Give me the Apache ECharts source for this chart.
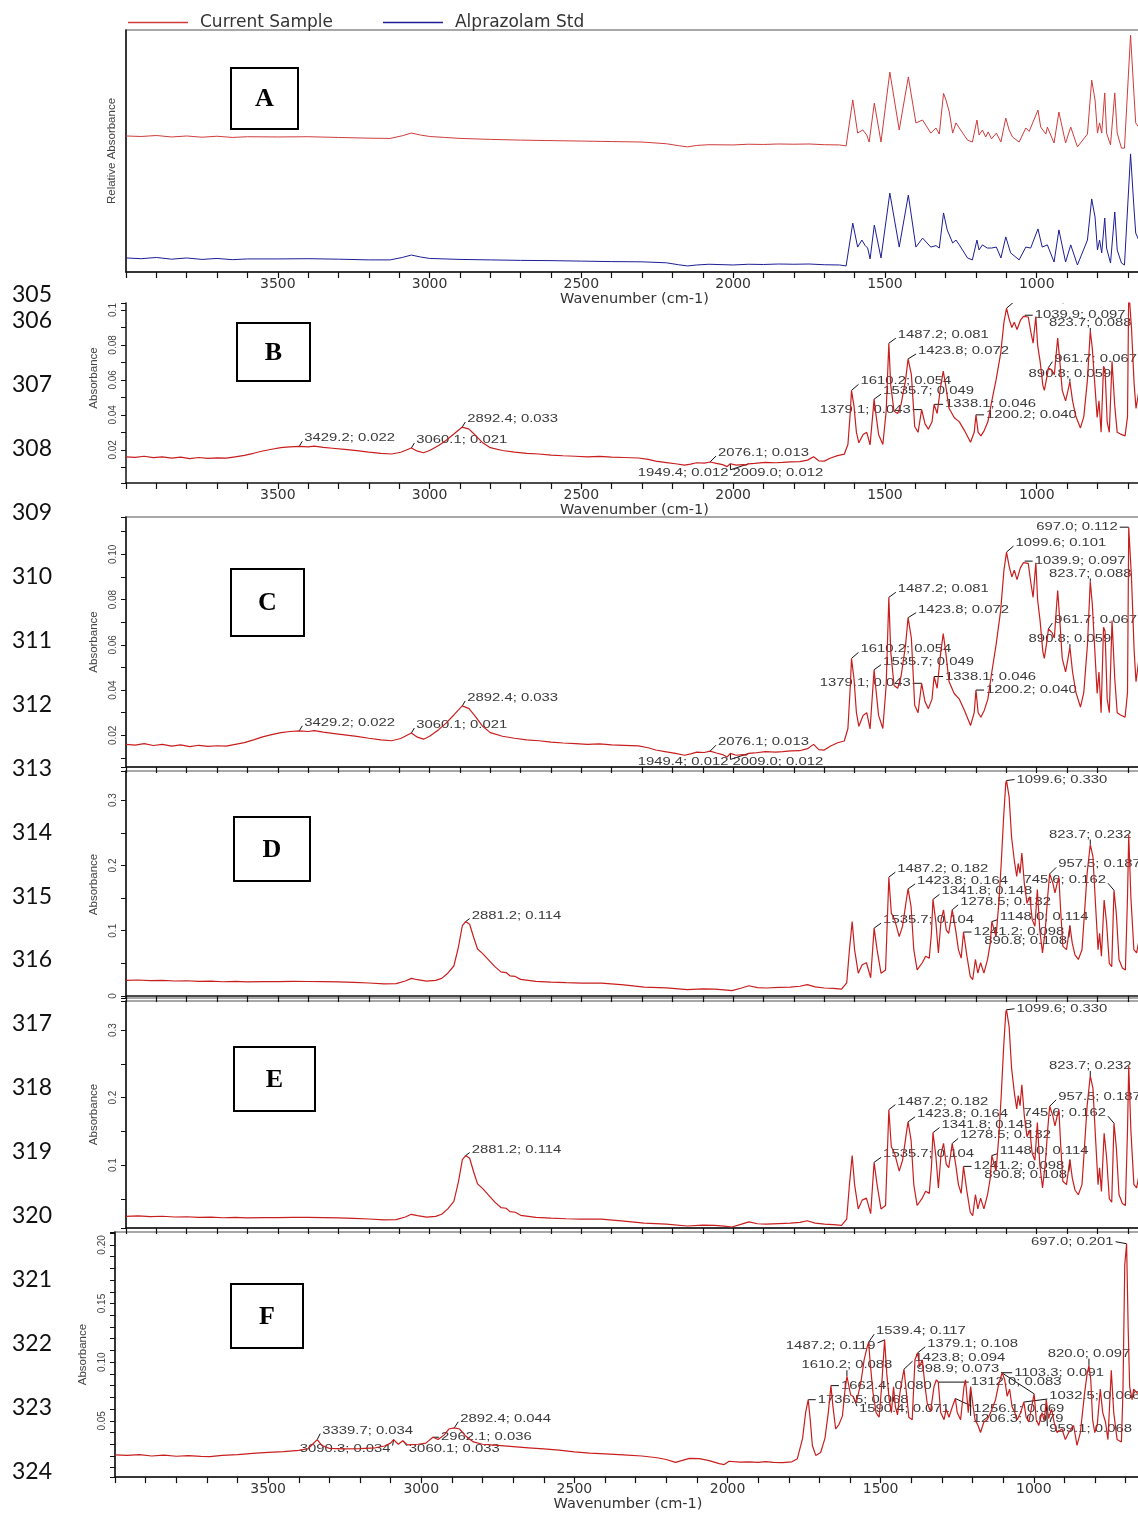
<!DOCTYPE html>
<html>
<head>
<meta charset="utf-8">
<script src="https://cdn.jsdelivr.net/npm/echarts@6/dist/echarts.min.js"></script>
<style>
html,body{margin:0;padding:0;overflow:hidden;background:#fff}
#chart{width:1150px;height:1513px}
</style>
</head>
<body>
<div id="chart"></div>
<script>
// ---------------- data ----------------
// overlay panel: relative absorbance traces (arbitrary units, stacked)
const overlaySample = [[4000,56.2],[3950,56.0],[3900,56.4],[3850,55.8],[3800,56.2],[3750,55.7],[3700,56.1],[3650,55.6],[3600,55.9],[3500,55.8],[3400,55.9],[3300,55.6],[3200,55.3],[3130,55.2],[3090,56.3],[3060,57.4],[3030,56.6],[3000,56.0],[2950,55.6],[2900,55.2],[2850,55.0],[2800,54.8],[2700,54.5],[2600,54.3],[2500,54.1],[2400,53.9],[2300,53.7],[2220,53.0],[2180,52.2],[2150,51.7],[2120,52.3],[2080,52.6],[2000,52.5],[1950,52.8],[1900,52.7],[1850,52.9],[1800,52.8],[1750,52.9],[1700,52.6],[1650,52.5],[1628,52.1],[1606,71.1],[1590,57.4],[1573,58.7],[1560,56.6],[1552,53.7],[1535,69.8],[1513,53.7],[1484,82.6],[1453,58.7],[1423,80.6],[1398,61.6],[1376,62.8],[1349,57.4],[1332,59.5],[1321,57.0],[1307,73.8],[1299,71.1],[1288,66.1],[1277,57.4],[1266,61.6],[1255,59.5],[1228,54.5],[1212,53.7],[1197,62.8],[1190,56.6],[1179,58.7],[1168,55.8],[1160,57.9],[1149,55.0],[1133,57.4],[1118,53.7],[1102,63.6],[1091,58.7],[1080,55.8],[1058,53.7],[1036,59.5],[1025,58.1],[996,66.9],[987,59.9],[970,57.0],[965,59.9],[943,53.3],[927,66.1],[905,53.3],[888,59.9],[866,51.7],[833,57.0],[819,79.3],[808,71.1],[800,57.4],[793,61.6],[786,57.4],[776,74.0],[770,57.4],[757,52.5],[743,74.0],[735,57.4],[721,51.2],[711,51.2],[691,97.9],[680,74.0],[674,61.6],[664,59.9],[650,60.5]];
const overlayStd = [[4000,5.8],[3950,5.5],[3900,6.0],[3850,5.3],[3800,5.8],[3750,5.2],[3700,5.6],[3650,5.1],[3600,5.4],[3500,5.4],[3400,5.5],[3300,5.3],[3200,5.0],[3130,5.0],[3090,6.0],[3060,7.0],[3030,6.2],[3000,5.6],[2900,5.2],[2800,5.0],[2700,4.8],[2600,4.7],[2500,4.5],[2400,4.3],[2300,4.2],[2220,3.8],[2180,3.0],[2150,2.5],[2120,2.9],[2080,3.2],[2000,2.9],[1950,3.2],[1900,3.1],[1850,3.3],[1800,3.2],[1750,3.3],[1700,3.0],[1650,2.9],[1628,2.5],[1606,20.2],[1590,10.3],[1576,13.2],[1565,10.9],[1557,9.9],[1549,5.4],[1535,19.4],[1513,5.8],[1484,32.6],[1453,10.3],[1423,31.8],[1398,10.3],[1376,14.0],[1349,10.3],[1332,10.9],[1321,9.9],[1307,24.4],[1295,17.4],[1277,12.0],[1266,13.2],[1255,11.2],[1228,5.8],[1212,5.0],[1197,13.2],[1190,9.1],[1179,11.2],[1163,9.9],[1149,9.9],[1133,10.3],[1118,5.8],[1102,14.5],[1086,7.9],[1058,5.0],[1036,10.3],[1020,9.9],[996,17.8],[982,10.3],[965,11.2],[943,4.1],[927,17.4],[905,4.1],[888,11.2],[866,2.9],[833,13.2],[819,30.2],[808,22.7],[800,9.1],[793,13.2],[786,7.9],[776,22.3],[770,9.9],[757,3.7],[743,24.8],[735,9.1],[721,3.7],[711,2.9],[691,48.8],[680,26.9],[674,16.1],[664,13.2],[650,13.8]];

// current sample absorbance spectrum (panels B and C)
const sampleSpectrum = [[4000,0.0160],[3970,0.0157],[3940,0.0163],[3910,0.0155],[3880,0.0160],[3850,0.0152],[3820,0.0158],[3790,0.0150],[3760,0.0156],[3730,0.0151],[3700,0.0154],[3670,0.0152],[3640,0.0160],[3610,0.0168],[3580,0.0180],[3550,0.0193],[3520,0.0203],[3490,0.0212],[3460,0.0217],[3429.2,0.022],[3400,0.0217],[3380,0.0221],[3350,0.0214],[3320,0.0209],[3280,0.0202],[3240,0.0195],[3200,0.0187],[3160,0.0180],[3125,0.0176],[3095,0.0186],[3060.1,0.021],[3040,0.0192],[3020,0.0183],[3000,0.0196],[2970,0.0225],[2945,0.0255],[2920,0.0290],[2892.4,0.033],[2870,0.0318],[2850,0.0285],[2825,0.0240],[2800,0.0212],[2760,0.0196],[2720,0.0187],[2680,0.0180],[2640,0.0176],[2600,0.0170],[2560,0.0166],[2520,0.0163],[2480,0.0160],[2440,0.0162],[2400,0.0158],[2360,0.0156],[2312,0.0153],[2280,0.0145],[2255,0.0135],[2220,0.0127],[2190,0.0120],[2160,0.0112],[2140,0.0118],[2120,0.0126],[2095,0.0124],[2076.1,0.013],[2055,0.0122],[2035,0.0115],[2020,0.0104],[2009.0,0.012],[1990,0.0112],[1967,0.0115],[1958,0.0112],[1949.4,0.012],[1930,0.0122],[1894,0.0128],[1860,0.0126],[1837,0.0128],[1810,0.0131],[1781,0.0132],[1755,0.0141],[1735,0.0160],[1718,0.0137],[1700,0.0135],[1679,0.0153],[1656,0.0167],[1634,0.0175],[1622,0.0230],[1614,0.042],[1610.2,0.054],[1602,0.045],[1594,0.030],[1586,0.024],[1572,0.0288],[1560,0.030],[1549,0.0228],[1535.7,0.049],[1530,0.0407],[1521,0.0288],[1507,0.023],[1496,0.042],[1487.2,0.081],[1481,0.057],[1470,0.042],[1458,0.0408],[1447,0.046],[1432,0.060],[1423.8,0.072],[1413,0.063],[1402,0.0333],[1391,0.030],[1379.1,0.043],[1368,0.0348],[1357,0.0318],[1345,0.036],[1338.1,0.046],[1328,0.0408],[1317,0.0558],[1308,0.065],[1300,0.057],[1289,0.0438],[1272,0.0385],[1255,0.036],[1238,0.031],[1218,0.0243],[1206,0.030],[1200.2,0.040],[1193,0.030],[1184,0.028],[1173,0.031],[1161,0.036],[1148,0.048],[1134,0.060],[1119,0.075],[1108,0.093],[1099.6,0.101],[1091,0.0948],[1082,0.090],[1074,0.093],[1065,0.0888],[1054,0.094],[1044,0.0963],[1039.9,0.097],[1028,0.096],[1019,0.087],[1012,0.081],[1003,0.0963],[997,0.0797],[989,0.0707],[980,0.057],[975,0.054],[965,0.063],[961.7,0.067],[950,0.0655],[942,0.063],[935,0.0767],[931,0.084],[924,0.0707],[916,0.054],[905,0.048],[897,0.054],[890.8,0.059],[882,0.048],[871,0.039],[856,0.0325],[845,0.039],[833,0.060],[823.7,0.088],[817,0.078],[808,0.0557],[801,0.0385],[795,0.048],[788,0.030],[780,0.0678],[775,0.066],[768,0.036],[761,0.030],[752,0.0707],[743,0.045],[735,0.030],[724,0.029],[709,0.028],[701,0.039],[697.0,0.112],[688,0.090],[679,0.057],[673,0.0437],[666,0.051],[658,0.060],[650,0.055]];

// reference standard absorbance spectrum (panels D and E)
const standardSpectrum = [[4000,0.024],[3960,0.0246],[3920,0.0236],[3880,0.0241],[3840,0.0230],[3800,0.0234],[3760,0.0224],[3720,0.0229],[3680,0.0219],[3640,0.0224],[3600,0.0216],[3550,0.0220],[3500,0.0222],[3450,0.0224],[3400,0.0223],[3350,0.0222],[3300,0.0218],[3250,0.0210],[3200,0.0200],[3150,0.0186],[3110,0.0190],[3080,0.0230],[3060,0.0270],[3040,0.0250],[3010,0.0228],[2980,0.0240],[2960,0.0270],[2940,0.0350],[2920,0.0460],[2905,0.0750],[2892,0.1080],[2881.2,0.114],[2868,0.1100],[2855,0.0900],[2842,0.0720],[2825,0.0650],[2805,0.0550],[2785,0.0450],[2765,0.0370],[2748,0.0360],[2735,0.0310],[2718,0.0300],[2700,0.0255],[2650,0.0225],[2600,0.0212],[2550,0.0204],[2500,0.0198],[2434,0.0199],[2360,0.0170],[2293,0.0138],[2220,0.0125],[2151,0.0097],[2100,0.0110],[2061,0.0107],[2030,0.0095],[2004,0.0082],[1975,0.0120],[1948,0.0158],[1920,0.0130],[1891,0.0123],[1850,0.0132],[1812,0.0138],[1780,0.0150],[1756,0.0174],[1730,0.0140],[1699,0.0123],[1670,0.0118],[1643,0.0107],[1626,0.020],[1617,0.071],[1608,0.114],[1600,0.071],[1588,0.035],[1575,0.048],[1561,0.051],[1547,0.028],[1535.7,0.104],[1526,0.071],[1513,0.035],[1498,0.040],[1487.2,0.182],[1479,0.127],[1468,0.117],[1453,0.091],[1442,0.107],[1428,0.152],[1423.8,0.164],[1414,0.137],[1405,0.071],[1394,0.040],[1377,0.051],[1366,0.061],[1354,0.058],[1347,0.096],[1341.8,0.148],[1332,0.112],[1324,0.066],[1315,0.117],[1307,0.132],[1298,0.101],[1290,0.096],[1283,0.117],[1278.5,0.132],[1267,0.101],[1258,0.071],[1249,0.058],[1241.2,0.098],[1230,0.061],[1219,0.030],[1211,0.025],[1202,0.056],[1194,0.035],[1185,0.051],[1174,0.035],[1162,0.056],[1153,0.081],[1148.0,0.114],[1134,0.091],[1125,0.142],[1117,0.203],[1109,0.275],[1102,0.326],[1099.6,0.330],[1091,0.305],[1083,0.244],[1074,0.208],[1066,0.183],[1061,0.203],[1055,0.188],[1049,0.219],[1041,0.173],[1032,0.142],[1023,0.152],[1015,0.117],[1006,0.107],[998,0.163],[990,0.101],[981,0.066],[972,0.101],[964,0.152],[957.5,0.187],[947,0.173],[940,0.158],[933,0.172],[927,0.182],[922,0.137],[914,0.076],[902,0.071],[890.8,0.108],[883,0.081],[874,0.063],[863,0.056],[851,0.071],[842,0.132],[834,0.188],[823.7,0.232],[815,0.214],[806,0.137],[798,0.071],[793,0.096],[787,0.061],[778,0.147],[770,0.112],[761,0.050],[753,0.045],[745.6,0.162],[738,0.127],[729,0.056],[718,0.043],[708,0.040],[701,0.152],[697,0.247],[690,0.152],[680,0.071],[671,0.066],[665,0.081],[650,0.070]];

// spectrum of panel F
const panelFSpectrum = [[4000,0.021],[3960,0.0205],[3920,0.0212],[3880,0.0200],[3840,0.0207],[3800,0.0198],[3760,0.0203],[3720,0.0196],[3690,0.0194],[3650,0.0205],[3600,0.0212],[3550,0.0222],[3500,0.0230],[3450,0.0238],[3400,0.0248],[3370,0.0262],[3355,0.030],[3339.7,0.034],[3325,0.029],[3300,0.0265],[3250,0.026],[3200,0.0262],[3150,0.027],[3120,0.0285],[3100,0.031],[3090.3,0.034],[3075,0.030],[3060.1,0.033],[3045,0.0295],[3010,0.030],[2985,0.031],[2962.1,0.036],[2945,0.034],[2925,0.038],[2910,0.043],[2892.4,0.044],[2875,0.043],[2855,0.037],[2830,0.032],[2800,0.030],[2750,0.029],[2700,0.028],[2650,0.027],[2600,0.026],[2550,0.025],[2500,0.0235],[2450,0.0225],[2400,0.0218],[2340,0.021],[2280,0.020],[2230,0.0185],[2200,0.017],[2170,0.0145],[2150,0.016],[2125,0.018],[2092,0.0177],[2060,0.016],[2027,0.0135],[2011,0.0127],[1995,0.0155],[1960,0.0148],[1929,0.015],[1900,0.0145],[1875,0.0152],[1850,0.0146],[1821,0.0144],[1790,0.015],[1772,0.0177],[1755,0.035],[1745,0.057],[1736.5,0.068],[1730,0.051],[1723,0.029],[1712,0.0205],[1696,0.023],[1682,0.035],[1671,0.057],[1662.4,0.080],[1656,0.0625],[1647,0.043],[1636,0.047],[1625,0.054],[1617,0.075],[1610.2,0.088],[1604,0.080],[1598,0.072],[1590.4,0.071],[1580,0.0653],[1565,0.082],[1554,0.102],[1545,0.112],[1539.4,0.117],[1533,0.096],[1525,0.074],[1515,0.057],[1505,0.053],[1497,0.079],[1487.2,0.119],[1480,0.09],[1472,0.068],[1465,0.057],[1458,0.079],[1452,0.062],[1445,0.055],[1437,0.074],[1430,0.085],[1423.8,0.094],[1416,0.074],[1408,0.053],[1397,0.051],[1388,0.102],[1379.1,0.108],[1373,0.096],[1364,0.102],[1355,0.079],[1348,0.065],[1337,0.058],[1326,0.079],[1318,0.085],[1312.0,0.083],[1304,0.057],[1293,0.051],[1286,0.060],[1277,0.053],[1266,0.062],[1256.1,0.069],[1250,0.057],[1239,0.051],[1228,0.079],[1223,0.085],[1214,0.057],[1206.3,0.079],[1198,0.062],[1192,0.051],[1182,0.046],[1174,0.040],[1163,0.049],[1152,0.051],[1141,0.057],[1125,0.068],[1114,0.082],[1103.3,0.091],[1095,0.085],[1087,0.071],[1079,0.077],[1071,0.062],[1062,0.057],[1054,0.051],[1043,0.057],[1032.5,0.066],[1025,0.053],[1016,0.049],[1007,0.062],[998.9,0.073],[992,0.051],[984,0.046],[973,0.057],[966,0.050],[959.1,0.068],[952,0.052],[942,0.060],[933,0.048],[924,0.040],[908,0.043],[897,0.034],[886,0.040],[870,0.046],[859,0.029],[848,0.040],[834,0.074],[826,0.090],[820.0,0.097],[814,0.085],[808,0.051],[801,0.040],[793,0.046],[783,0.077],[775,0.057],[766,0.049],[758,0.034],[747,0.093],[739,0.057],[728,0.034],[714,0.032],[709,0.074],[703,0.183],[697.0,0.201],[692,0.130],[687,0.079],[679,0.068],[674,0.077],[664,0.074],[650,0.072]];

// annotated peak positions (wavenumbers) per spectrum
const sampleMarked = [3429.2, 3060.1, 2892.4, 2076.1, 1949.4, 2009.0, 1610.2, 1535.7, 1487.2, 1423.8, 1379.1, 1338.1, 1200.2, 1099.6, 1039.9, 823.7, 961.7, 890.8, 697.0];
const standardMarked = [2881.2, 1099.6, 823.7, 957.5, 745.6, 1487.2, 1423.8, 1341.8, 1278.5, 1148.0, 1535.7, 1241.2, 890.8];
const panelFMarked = [697.0, 1539.4, 1487.2, 1379.1, 1610.2, 1423.8, 998.9, 1103.3, 1662.4, 1312.0, 1032.5, 1736.5, 1590.4, 1256.1, 1206.3, 959.1, 820.0, 3339.7, 3090.3, 3060.1, 2962.1, 2892.4];

// axis texts
const legendNames = ['Current Sample', 'Alprazolam Std'];
const xAxisTitle = 'Wavenumber (cm-1)';
const panelLetters = ['A', 'B', 'C', 'D', 'E', 'F'];
const lineNumbers = [305, 306, 307, 308, 309, 310, 311, 312, 313, 314, 315, 316, 317, 318, 319, 320, 321, 322, 323, 324];

// ---------------- styling / layout ----------------
const RED = '#c81e1e', RED_A = '#cf3c3c', BLUE = '#1d1d96';

// label placement relative to the peak: [dx, dy, align]
const sampleLabelPlacement = {
  3429.2: [4, -8, 'left'], 3060.1: [4, -8, 'left'], 2892.4: [4, -8, 'left'],
  2076.1: [7, -9, 'left'], 1949.4: [-19, 9, 'right'], 2009.0: [1, 9, 'left'],
  1610.2: [8, -9, 'left'], 1535.7: [8, -8, 'left'], 1487.2: [8, -8, 'left'],
  1423.8: [9, -8, 'left'], 1379.1: [-10, 0, 'right'], 1338.1: [10, 0, 'left'],
  1200.2: [9, 0, 'left'], 1099.6: [8, -9, 'left'], 1039.9: [9, 0, 'left'],
  823.7: [0, -8, 'center'], 961.7: [5, -9, 'left'], 890.8: [0, -8, 'center'],
  697.0: [-10, 0, 'right']
};
const standardLabelPlacement = {
  2881.2: [5, -6, 'left'], 1099.6: [9, -1, 'left'], 823.7: [0, -10, 'center'],
  957.5: [7.5, -9.5, 'left'], 745.6: [-7, -10, 'right'], 1487.2: [7.5, -8, 'left'],
  1423.8: [8, -8, 'left'], 1341.8: [7.5, -8, 'left'], 1278.5: [7, -8, 'left'],
  1148.0: [7, -5, 'left'], 1535.7: [8, -8, 'left'], 1241.2: [9, 0, 'left'],
  890.8: [-2, 15, 'right']
};
const panelFLabelPlacement = {
  697.0: [-12, -2, 'right'], 1539.4: [6.5, -11, 'left'], 1487.2: [-8, 6, 'right'],
  1379.1: [8.5, -9, 'left'], 1610.2: [0, -11, 'center'], 1423.8: [9.5, -11, 'left'],
  998.9: [-34, -24.5, 'right'], 1103.3: [11, 0, 'left'], 1662.4: [9, 0, 'left'],
  1312.0: [31.5, 0, 'left'], 1032.5: [24.5, -6, 'left'], 1736.5: [8.5, 0, 'left'],
  1590.4: [5, 13, 'left'], 1256.1: [17, 10.5, 'left'], 1206.3: [1, 32, 'left'],
  959.1: [2, 29.5, 'left'], 820.0: [0, -12, 'center'], 3339.7: [4, -9, 'left'],
  3090.3: [-2, 9, 'right'], 3060.1: [5, 8, 'left'], 2962.1: [7, 0, 'left'],
  2892.4: [5, -9, 'left']
};

// grid geometry for the six stacked panels
const panels = [
  { left: 126, top: 30,   height: 242, right: 7, border: true,  xLabels: true,  yMin: 0,       yMax: 100,    yStep: null, yLabelStep: null, yName: 'Relative Absorbance', yNameGap: 8, lw: 1 },
  { left: 126, top: 303,  height: 180, right: 7, border: false, xLabels: true,  yMin: 0.001,   yMax: 0.104,  yStep: 0.01, yLabelStep: 0.02, yDigits: -1, yName: 'Absorbance', yNameGap: 25, yNameShift: 30, lw: 1.2 },
  { left: 126, top: 517,  height: 250, right: 7, border: true,  xLabels: false, yMin: 0.006,   yMax: 0.1165, yStep: 0.01, yLabelStep: 0.02, yDigits: 2, yName: 'Absorbance', yNameGap: 25, lw: 1.2 },
  { left: 126, top: 771,  height: 227, right: 7, border: true,  xLabels: false, yMin: -0.003,  yMax: 0.3446, yStep: 0.05, yLabelStep: 0.1, yDigits: -1, yName: 'Absorbance', yNameGap: 25, lw: 1.2 },
  { left: 126, top: 1001, height: 227, right: 7, border: true,  xLabels: false, yMin: 0.0067,  yMax: 0.343,  yStep: 0.05, yLabelStep: 0.1, yDigits: -1, yName: 'Absorbance', yNameGap: 25, lw: 1.2 },
  { left: 115, top: 1232, height: 250, right: 9, border: true,  xLabels: true,  yMin: 0.002,   yMax: 0.211,  yStep: 0.01, yLabelStep: 0.05, yDigits: 2, yName: 'Absorbance', yNameGap: 25, lw: 1.2 }
];

const letterBoxes = [
  [231, 68, 67, 61], [237, 323, 73, 58], [231, 569, 73, 67],
  [234, 817, 76, 64], [234, 1047, 81, 64], [231, 1284, 72, 64]
];

// ---------------- option building ----------------
const valueAt = (spec, wn) => spec.find(p => p[0] === wn)[1];

function yLabelFormatter(step, digits) {
  return v => {
    const k = Math.round(v / step);
    if (Math.abs(v - k * step) > 1e-9) return '';
    const val = k * step;
    if (val < 0) return '';
    return digits > 0 ? val.toFixed(digits) : String(+val.toFixed(3));
  };
}

const grids = panels.map(p => ({
  left: p.left, top: p.top, height: p.height, right: p.right,
  show: p.border, borderColor: '#8c8c8c', borderWidth: 1.5, backgroundColor: 'transparent',
  containLabel: false
}));

const xAxes = panels.map((p, i) => ({
  type: 'value', gridIndex: i, inverse: true, min: 650, max: 4000,
  minInterval: 100, maxInterval: 100, splitNumber: 34,
  axisLine: { show: true, lineStyle: { color: '#111', width: 1.5 } },
  axisTick: { show: true, length: 6, lineStyle: { color: '#111', width: 1.2 } },
  splitLine: { show: false },
  axisLabel: {
    show: p.xLabels, interval: 0, margin: 5, color: '#333',
    fontFamily: 'DejaVu Sans', fontSize: 14,
    formatter: v => (v % 500 === 0 && v < 4000) ? String(v) : ''
  },
  name: p.xLabels ? xAxisTitle : '', nameLocation: 'middle', nameGap: 19,
  nameTextStyle: { color: '#333', fontFamily: 'DejaVu Sans', fontSize: 14.5 }
}));

const yAxes = panels.map((p, i) => {
  const ax = {
    type: 'value', gridIndex: i, min: p.yMin, max: p.yMax,
    axisLine: { show: true, lineStyle: { color: '#111', width: 1.5 } },
    splitLine: { show: false },
    name: p.yName, nameLocation: 'middle', nameGap: p.yNameGap,
    nameTextStyle: { color: '#444', fontFamily: 'Liberation Sans', fontSize: 11.5,
      padding: p.yNameShift ? [0, 0, 0, p.yNameShift] : 0 }
  };
  if (p.yStep) {
    ax.minInterval = p.yStep; ax.maxInterval = p.yStep;
    ax.splitNumber = Math.round((p.yMax - p.yMin) / p.yStep);
    ax.axisTick = { show: true, length: 5, lineStyle: { color: '#111', width: 1 } };
    ax.axisLabel = { show: true, rotate: 90, margin: 8, color: '#444',
      fontFamily: 'Liberation Sans', fontSize: 10, formatter: yLabelFormatter(p.yLabelStep, p.yDigits) };
  } else {
    ax.axisTick = { show: false };
    ax.axisLabel = { show: false };
  }
  return ax;
});

function spectrumSeries(name, idx, data, color) {
  return {
    name, type: 'line', xAxisIndex: idx, yAxisIndex: idx, data,
    showSymbol: false, symbol: 'none', clip: true, silent: true, z: 3,
    lineStyle: { color, width: panels[idx].lw }, itemStyle: { color }
  };
}

function annotationSeries(idx, spec, marked, placement) {
  return {
    type: 'custom', xAxisIndex: idx, yAxisIndex: idx, clip: true, silent: true, z: 1,
    data: marked.map(wn => [wn, valueAt(spec, wn)]),
    encode: { x: 0, y: 1 },
    renderItem(params, api) {
      const wn = api.value(0), ab = api.value(1);
      const p = api.coord([wn, ab]);
      const [dx, dy, align] = placement[wn];
      const tx = p[0] + dx, ty = p[1] + dy;
      let ex = tx, ey = ty;
      if (align === 'left') ex = tx - 1;
      else if (align === 'right') ex = tx + 1;
      if (align === 'center') ey = ty + (dy < 0 ? 5 : -5);
      else if (dy < -2) ey = ty + 3;
      else if (dy > 2) ey = ty - 3;
      return {
        type: 'group',
        children: [
          { type: 'line', shape: { x1: p[0], y1: p[1], x2: ex, y2: ey },
            style: { stroke: '#111', lineWidth: 1 } },
          { type: 'text', x: tx + (align === 'left' ? 1 : align === 'right' ? -1 : 0), y: ty, scaleX: 1.35,
            style: { text: wn.toFixed(1) + '; ' + ab.toFixed(3), fill: '#3a3a3a',
              font: '11px "Liberation Sans", Arial, sans-serif', align, verticalAlign: 'middle' } }
        ]
      };
    }
  };
}

const series = [
  spectrumSeries(legendNames[0], 0, overlaySample, RED_A),
  spectrumSeries(legendNames[1], 0, overlayStd, BLUE),
  spectrumSeries('Sample (scaled)', 1, sampleSpectrum, RED),
  spectrumSeries('Sample', 2, sampleSpectrum, RED),
  spectrumSeries('Standard', 3, standardSpectrum, RED),
  spectrumSeries('Standard (repeat)', 4, standardSpectrum, RED),
  spectrumSeries('Spectrum F', 5, panelFSpectrum, RED),
  annotationSeries(1, sampleSpectrum, sampleMarked, sampleLabelPlacement),
  annotationSeries(2, sampleSpectrum, sampleMarked, sampleLabelPlacement),
  annotationSeries(3, standardSpectrum, standardMarked, standardLabelPlacement),
  annotationSeries(4, standardSpectrum, standardMarked, standardLabelPlacement),
  annotationSeries(5, panelFSpectrum, panelFMarked, panelFLabelPlacement)
];

const graphics = [];
lineNumbers.forEach(n => {
  const y = n === 305 ? 295 : 321 + (n - 306) * 63.9;
  graphics.push({ type: 'text', x: 12, y, z: 10,
    style: { text: String(n), font: '23px Lato, "Noto Sans", sans-serif', fill: '#111', verticalAlign: 'middle' } });
});
panelLetters.forEach((letter, i) => {
  const [bx, by, bw, bh] = letterBoxes[i];
  graphics.push({ type: 'rect', z: 10, shape: { x: bx, y: by, width: bw, height: bh },
    style: { fill: '#fff', stroke: '#000', lineWidth: 2 } });
  graphics.push({ type: 'text', z: 11, x: bx + bw / 2, y: by + bh / 2 + 1,
    style: { text: letter, font: 'bold 26px "Liberation Serif", "Times New Roman", serif', fill: '#000',
      align: 'center', verticalAlign: 'middle' } });
});

const option = {
  animation: false,
  backgroundColor: '#fff',
  legend: {
    data: legendNames, left: 123, top: 9, icon: 'rect', itemWidth: 60, itemHeight: 1.5, itemGap: 50,
    textStyle: { color: '#333', fontFamily: 'DejaVu Sans', fontSize: 17, padding: [0, 0, 0, 7] },
    selectedMode: false
  },
  grid: grids,
  xAxis: xAxes,
  yAxis: yAxes,
  series,
  graphic: { elements: graphics }
};

const chart = echarts.init(document.getElementById('chart'), null, { renderer: 'canvas' });
chart.setOption(option);
</script>
</body>
</html>
